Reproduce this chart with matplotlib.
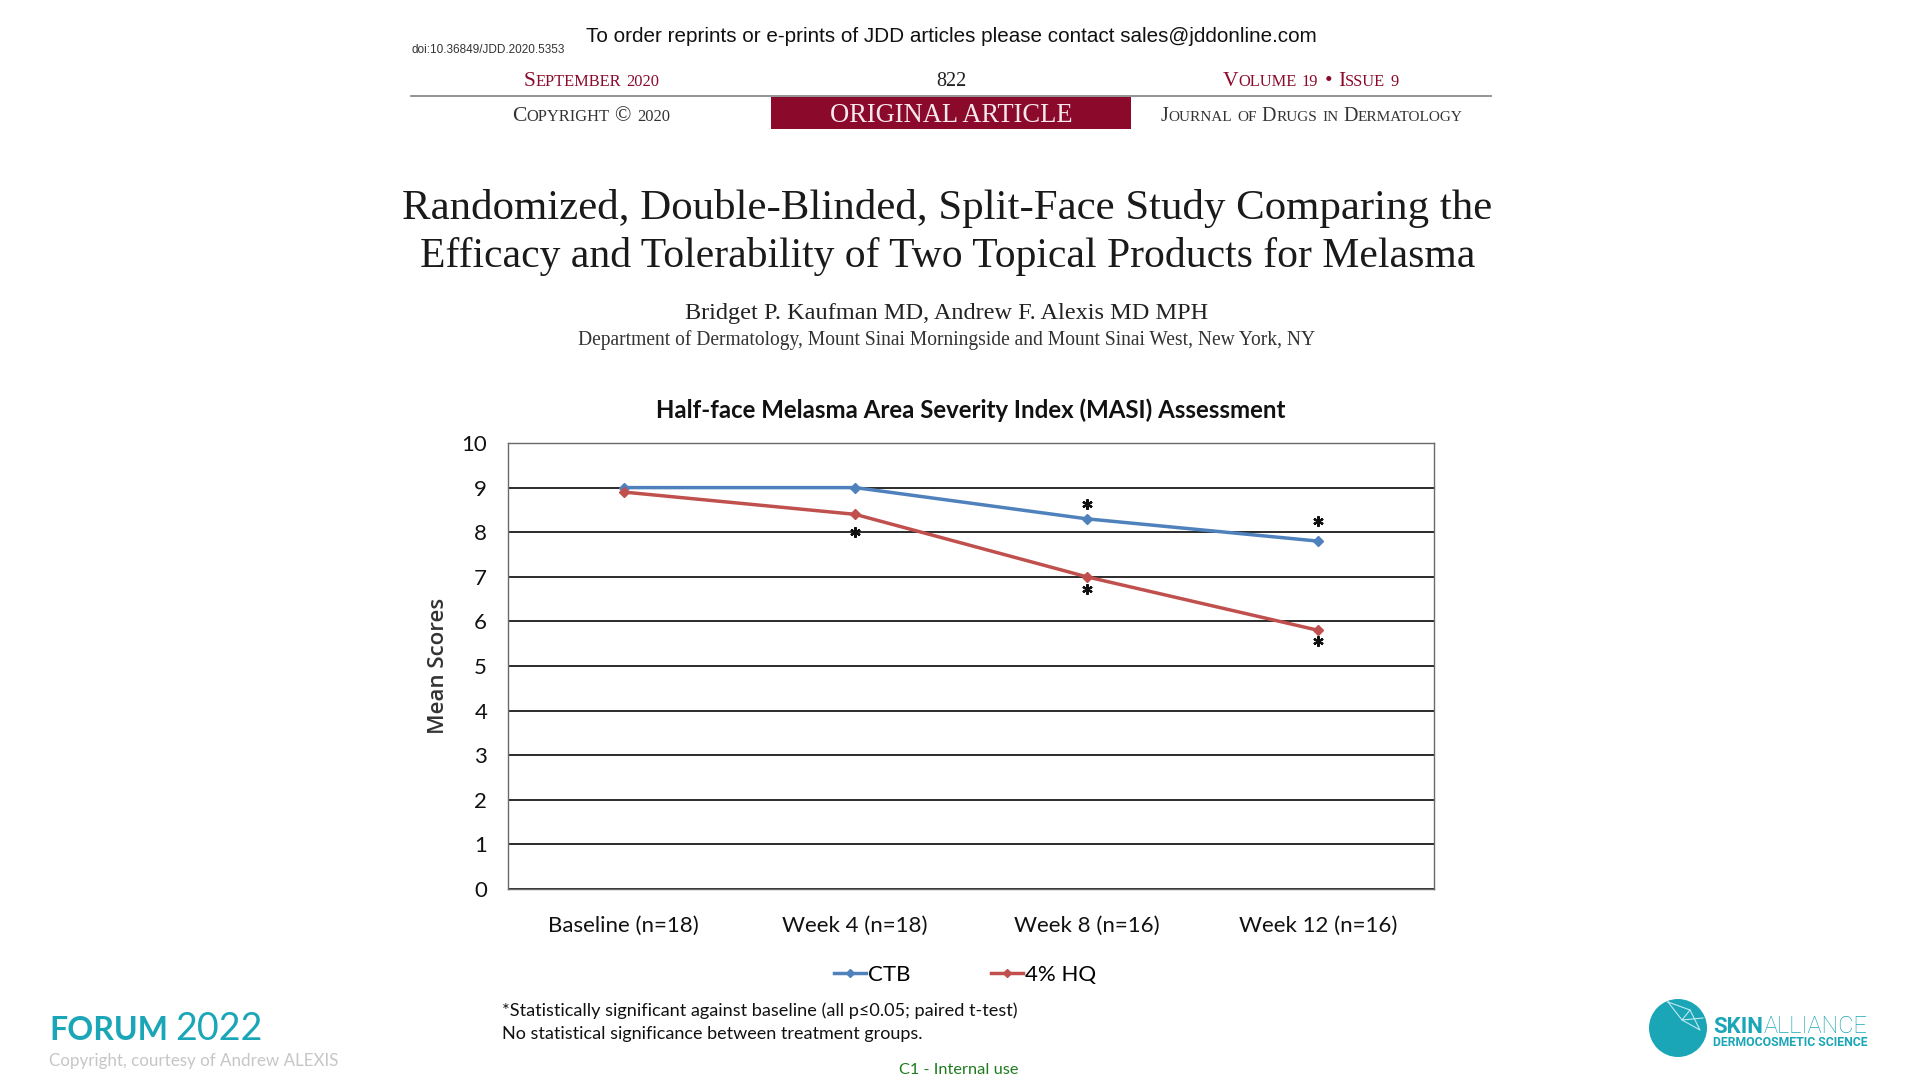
"""
Half-face MASI assessment slide (JDD 2020 split-face melasma study).
"""

import itertools
import matplotlib
matplotlib.use('Agg')
import matplotlib.pyplot as plt
from matplotlib.lines import Line2D
from matplotlib.patches import Circle, Rectangle

# chart data
categories = ['Baseline (n=18)', 'Week 4 (n=18)', 'Week 8 (n=16)', 'Week 12 (n=16)']
ctb = [9.0, 9.0, 8.3, 7.8]
hq = [8.9, 8.4, 7.0, 5.8]
star_x = [1, 2, 2, 3, 3]
star_y = [8.0, 8.63, 6.73, 8.24, 5.55]
yticks = list(range(11))

BLUE = '#4F81BD'
RED = '#C0504D'
MAROON = '#8B0A2B'
TEAL = '#1BA6B8'
SERIF = 'Liberation Serif'
SANS = 'Lato'


def fit_text(ax, x, y, s, width, size=12, **kw):
    """Draw text and rescale its font so that it spans width pixels."""
    t = ax.text(x, y, s, fontsize=size, **kw)
    w = t.get_window_extent(RENDERER).width
    t.set_fontsize(size * width / w)
    return t


def small_caps(ax, x, y, s, width, ratio=0.76, **kw):
    """Fake small caps centred on x, baseline y, spanning width pixels."""
    runs = []
    for i, word in enumerate(s.split()):
        if i:
            runs.append(None)
        key = lambda c: c.isupper() or not c.isalnum()
        for big, grp in itertools.groupby(word, key=key):
            runs.append((''.join(grp).upper(), 1.0 if big else ratio))
    base = 10.0
    texts, widths = [], []
    for run in runs:
        if run is None:
            texts.append(None)
            widths.append(0.28 * base * 100 / 72)
            continue
        t = ax.text(0, y, run[0], fontsize=base * run[1], va='baseline',
                    ha='left', **kw)
        texts.append((t, run[1]))
        widths.append(t.get_window_extent(RENDERER).width)
    scale = width / sum(widths)
    pos = x - width / 2
    for item, w in zip(texts, widths):
        if item is not None:
            item[0].set_fontsize(base * item[1] * scale)
            item[0].set_x(pos)
        pos += w * scale


# init figure with a pixel overlay for the page decorations
fig = plt.figure(figsize=(19.2, 10.8), dpi=100)
RENDERER = fig.canvas.get_renderer()
page = fig.add_axes([0, 0, 1, 1], zorder=0)
page.set_xlim(0, 1920)
page.set_ylim(1080, 0)
page.axis('off')

# journal header
fit_text(page, 951, 36, 'To order reprints or e-prints of JDD articles please '
         'contact sales@jddonline.com', 733, family='Liberation Sans',
         ha='center', va='center', color='#111111')
fit_text(page, 411, 50, 'doi:10.36849/JDD.2020.5353', 152,
         family='Liberation Sans', ha='left', va='center', color='#333333')
small_caps(page, 591, 86, 'September 2020', 135, family=SERIF, color=MAROON)
fit_text(page, 951, 86, '822', 30, family=SERIF, ha='center', va='baseline',
         color='#222222')
small_caps(page, 1311, 86, 'Volume 19 \u2022 Issue 9', 176, family=SERIF,
           color=MAROON)
page.plot([411, 1491], [95.5, 95.5], color='#8a8a8a', lw=1.3)
page.add_patch(Rectangle((771, 97), 360, 32, color=MAROON, lw=0))
small_caps(page, 591, 121, 'Copyright \u00a9 2020', 158, family=SERIF,
           color='#333333')
fit_text(page, 951, 115.5, 'ORIGINAL ARTICLE', 241, family=SERIF,
         ha='center', va='center', color='#F6E9EC')
small_caps(page, 1311, 121, 'Journal of Drugs in Dermatology', 300,
           family=SERIF, color='#333333')

# article title and authors
fit_text(page, 947, 208, 'Randomized, Double-Blinded, Split-Face Study '
         'Comparing the', 1087, family=SERIF, ha='center', va='center',
         color='#1a1a1a')
fit_text(page, 948, 257, 'Efficacy and Tolerability of Two Topical Products '
         'for Melasma', 1055, family=SERIF, ha='center', va='center',
         color='#1a1a1a')
fit_text(page, 947, 314, 'Bridget P. Kaufman MD, Andrew F. Alexis MD MPH', 520,
         family=SERIF, ha='center', va='center', color='#222222')
fit_text(page, 947, 340, 'Department of Dermatology, Mount Sinai Morningside '
         'and Mount Sinai West, New York, NY', 736, family=SERIF,
         ha='center', va='center', color='#333333')

# chart title
fit_text(page, 971, 410, 'Half-face Melasma Area Severity Index (MASI) '
         'Assessment', 627, family=SANS, weight='bold', ha='center',
         va='center', color='#111111')

# chart
ax = fig.add_axes([508 / 1920, 1 - 889 / 1080, 926 / 1920, 446 / 1080],
                  zorder=1)
x = list(range(len(categories)))
ax.plot(x, ctb, color=BLUE, lw=2.5, marker='D', ms=5, zorder=3)
ax.plot(x, hq, color=RED, lw=2.5, marker='D', ms=5, zorder=3)
ax.plot(star_x, star_y, ls='', marker=(6, 2, 0), ms=7.5, mew=1.6,
        color='#111111', zorder=4)

ax.set_xlim(-0.5, len(categories) - 0.5)
ax.set_ylim(yticks[0], yticks[-1])
ax.set_yticks(yticks)
ax.set_xticks(x)
ax.set_xticklabels(categories)
ax.yaxis.grid(True, color='#2b2b2b', lw=1.4)
ax.set_axisbelow(True)
ax.tick_params(length=0, labelsize=16, colors='#111111')
ax.tick_params(axis='y', pad=15)
ax.tick_params(axis='x', pad=19)
for label in ax.get_xticklabels() + ax.get_yticklabels():
    label.set_family(SANS)
for side, spine in ax.spines.items():
    spine.set_color('#6a6a6a')
    spine.set_linewidth(1.0)
ax.set_ylabel('Mean Scores', family='Open Sans', fontsize=16, weight=600,
              color='#333333', va='center')
ax.yaxis.set_label_coords(-70 / 926, 0.5)

# legend
handles = [Line2D([], [], color=BLUE, lw=2.5, marker='D', ms=4),
           Line2D([], [], color=RED, lw=2.5, marker='D', ms=4)]
fig.legend(handles, ['CTB', '4% HQ'], loc='center', ncol=2, frameon=False,
           bbox_to_anchor=(965 / 1920, 1 - 975 / 1080),
           prop=dict(family=SANS, size=16), handlelength=1.45,
           handletextpad=0.1, columnspacing=3.6)

# footnotes
fit_text(page, 502, 1011, '*Statistically significant against baseline '
         '(all p\u22640.05; paired t-test)', 513, family=SANS, ha='left',
         va='center', color='#111111')
fit_text(page, 502, 1034, 'No statistical significance between treatment '
         'groups.', 420, family=SANS, ha='left', va='center',
         color='#111111')
fit_text(page, 959, 1070, 'C1 - Internal use', 119, family=SANS, ha='center',
         va='center', color='#1E7B1E')

# forum logo
fit_text(page, 49, 1040, 'FORUM', 119, family=SANS, weight='bold',
         ha='left', va='baseline', color=TEAL)
fit_text(page, 175, 1040, '2022', 87, family=SANS, weight='normal',
         ha='left', va='baseline', color=TEAL)
fit_text(page, 49, 1061, 'Copyright, courtesy of Andrew ALEXIS', 290,
         family=SANS, ha='left', va='center', color='#c6c6c6')

# skin alliance logo
page.add_patch(Circle((1678, 1028), 29, color=TEAL, lw=0))
page.plot([1668, 1690, 1700, 1682, 1668], [1002, 1010, 1030, 1020, 1002],
          color='#bfe9ef', lw=0.8)
page.plot([1690, 1682, 1703], [1010, 1020, 1018], color='#bfe9ef', lw=0.8)
fit_text(page, 1713, 1033, 'SKIN', 50, family='Roboto', weight='bold',
         ha='left', va='baseline', color=TEAL)
fit_text(page, 1764, 1033, 'ALLIANCE', 104, family='Roboto', weight='light',
         ha='left', va='baseline', color=TEAL)
fit_text(page, 1713, 1043, 'DERMOCOSMETIC SCIENCE', 155, family='Roboto',
         weight='bold', ha='left', va='center', color=TEAL)

fig.savefig('out.png', dpi=100, facecolor='white')
